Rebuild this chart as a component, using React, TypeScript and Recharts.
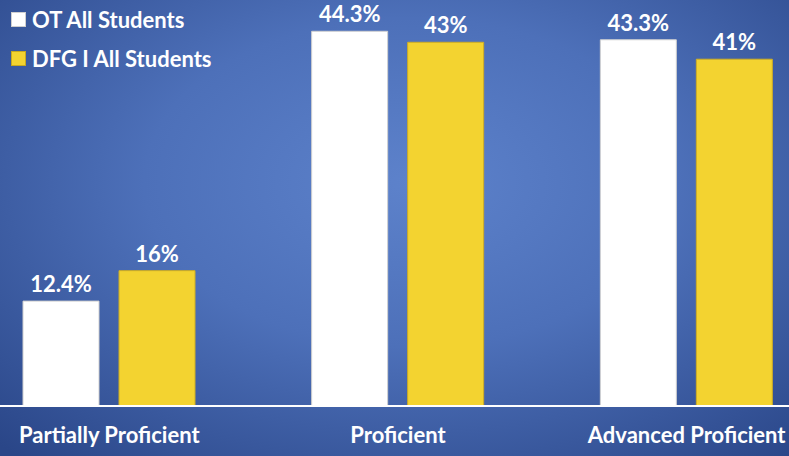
import React from "react";
import { BarChart, Bar, XAxis, YAxis, LabelList } from "recharts";

const categories = ["Partially Proficient", "Proficient", "Advanced Proficient"];
const otAllStudents = [12.4, 44.3, 43.3];
const dfgAllStudents = [16, 43, 41];

const data = categories.map((name, i) => ({
  name,
  ot: otAllStudents[i],
  dfg: dfgAllStudents[i],
}));

const FONT = "Lato, 'Open Sans', sans-serif";

const legendItems = [
  { label: "OT All Students", color: "#ffffff", border: "#cfcfcf" },
  { label: "DFG I All Students", color: "#f3d330", border: "#c9a91f" },
];

// legend drawn as an overlay so it doesn't shrink the plot area
function LegendBox() {
  return (
    <div
      style={{
        position: "absolute",
        left: 11,
        top: 0,
        fontFamily: FONT,
        fontWeight: 700,
        fontSize: 22,
        color: "#fff",
      }}
    >
      {legendItems.map((it) => (
        <div key={it.label} style={{ display: "flex", alignItems: "center", height: 39 }}>
          <span
            style={{
              width: 13,
              height: 13,
              background: it.color,
              border: `1px solid ${it.border}`,
              marginRight: 6,
              display: "inline-block",
            }}
          />
          {it.label}
        </div>
      ))}
    </div>
  );
}

export default function App() {
  return (
    <div
      style={{
        position: "absolute",
        left: 0,
        top: 0,
        width: 789,
        height: 456,
        overflow: "hidden",
        background:
          "radial-gradient(ellipse 75% 80% at 52% 40%, #5d82cb 0%, #4d70b9 45%, #2a4688 100%)",
      }}
    >
      <div style={{ position: "absolute", left: -35, top: 0 }}>
        <BarChart
          width={866}
          height={456}
          data={data}
          margin={{ top: 0, right: 0, bottom: 0, left: 0 }}
          barSize={76}
          barGap={20}
        >
          <XAxis
            dataKey="name"
            height={50}
            axisLine={{ stroke: "#ffffff", strokeWidth: 2 }}
            tickLine={false}
            tick={{ fill: "#ffffff", fontSize: 22, fontWeight: 700, fontFamily: FONT }}
            tickMargin={15}
            interval={0}
          />
          <YAxis hide domain={[0, 48]} width={0} />
          <Bar dataKey="ot" fill="#ffffff" stroke="#d0d0d0" strokeWidth={1} isAnimationActive={false}>
            <LabelList
              dataKey="ot"
              position="top"
              offset={9}
              formatter={(v: number) => `${v}%`}
              fill="#ffffff"
              fontSize={22}
              fontWeight={700}
              fontFamily={FONT}
            />
          </Bar>
          <Bar dataKey="dfg" fill="#f3d330" stroke="#cfae22" strokeWidth={1} isAnimationActive={false}>
            <LabelList
              dataKey="dfg"
              position="top"
              offset={9}
              formatter={(v: number) => `${v}%`}
              fill="#ffffff"
              fontSize={22}
              fontWeight={700}
              fontFamily={FONT}
            />
          </Bar>
        </BarChart>
      </div>
      <LegendBox />
    </div>
  );
}
